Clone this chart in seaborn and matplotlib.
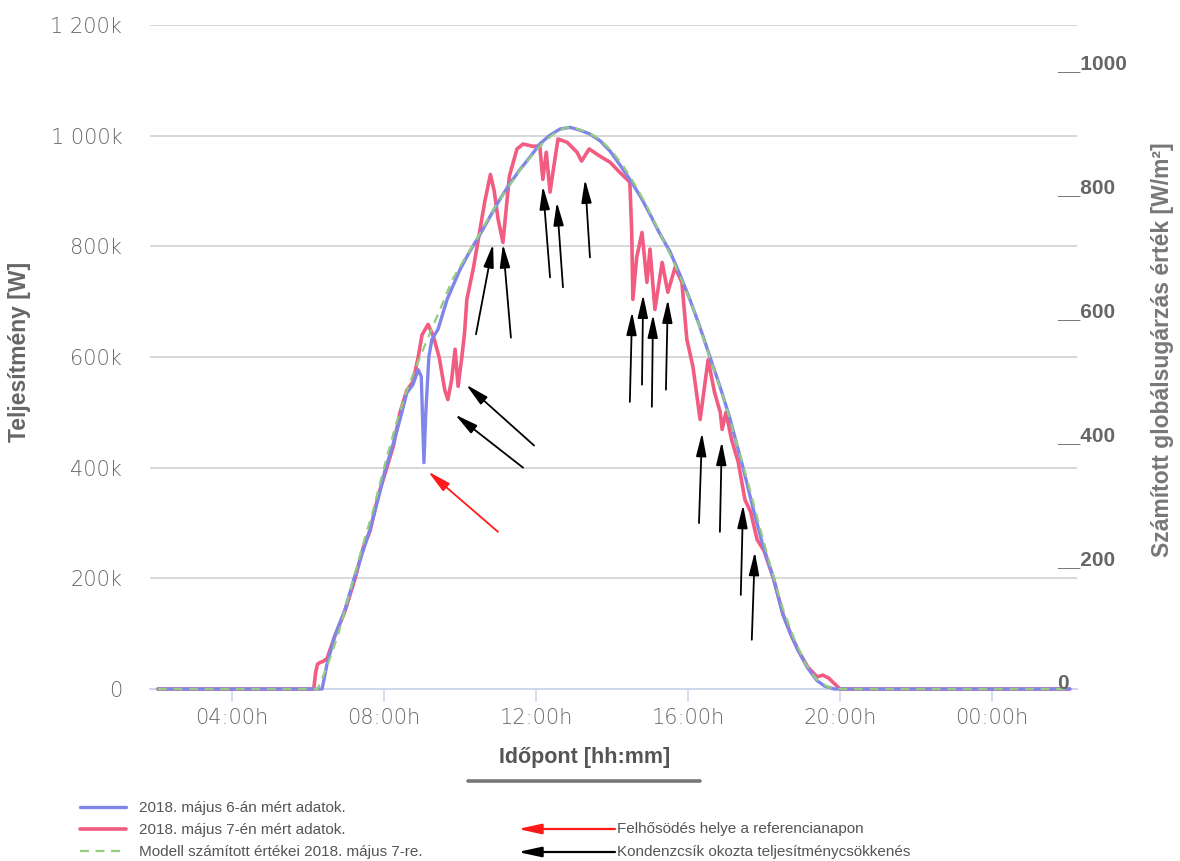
import matplotlib
matplotlib.use("Agg")
import matplotlib.pyplot as plt
from matplotlib.lines import Line2D
from matplotlib.patches import FancyArrowPatch
import seaborn as sns
import pandas as pd

# ---------------- data ----------------
# May 6 measured (time in hours, power in kW)
may6_t = [2.05, 6.30, 6.37, 6.50, 6.70, 6.97, 7.24, 7.45, 7.63, 7.85, 8.03, 8.25, 8.42, 8.60,
          8.76, 8.90, 8.98, 9.05, 9.10, 9.18, 9.26, 9.42, 9.66, 10.00, 10.25, 10.53, 10.80,
          11.05, 11.30, 11.58, 11.85, 12.10, 12.35, 12.63, 12.90, 13.15, 13.42, 13.70, 13.95,
          14.20, 14.47, 14.75, 15.00, 15.25, 15.53, 15.80, 16.05, 16.30, 16.58, 16.85, 17.10,
          17.45, 17.70, 17.95, 18.25, 18.50, 18.70, 18.90, 19.15, 19.40, 19.60, 19.85, 26.05]
may6_p = [0, 0, 0, 45, 95, 143, 206, 250, 288, 345, 396, 445, 487, 535,
          550, 577, 565, 409, 500, 600, 632, 650, 704, 758, 790, 822, 855,
          885, 912, 939, 962, 985, 1000, 1012, 1015, 1010, 1003, 990, 972,
          948, 921, 890, 858, 824, 790, 747, 704, 657, 600, 545, 490,
          400, 330, 265, 200, 135, 100, 70, 38, 15, 5, 0, 0]

# May 7 measured
may7_t = [2.05, 6.15, 6.20, 6.25, 6.32, 6.40, 6.50, 6.70, 6.97, 7.24, 7.45, 7.63, 7.85, 8.03,
          8.25, 8.42, 8.60, 8.76, 8.90, 9.00, 9.16, 9.30, 9.45, 9.60, 9.68, 9.78, 9.87, 9.95,
          10.05, 10.12, 10.18, 10.35, 10.50, 10.65, 10.80, 10.90, 11.00, 11.13, 11.30, 11.50,
          11.66, 11.90, 12.10, 12.18, 12.27, 12.37, 12.47, 12.58, 12.82, 13.08, 13.20, 13.40,
          13.68, 13.95, 14.20, 14.47, 14.52, 14.55, 14.65, 14.79, 14.92, 15.00, 15.13, 15.32,
          15.47, 15.66, 15.84, 15.97, 16.13, 16.32, 16.53, 16.70, 16.85, 16.90, 17.00, 17.15,
          17.32, 17.50, 17.65, 17.82, 18.00, 18.25, 18.50, 18.70, 18.90, 19.15, 19.40, 19.55,
          19.70, 19.85, 20.00, 26.05]
may7_p = [0, 0, 30, 45, 48, 50, 55, 95, 140, 200, 255, 285, 350, 390,
          440, 500, 540, 555, 600, 640, 659, 637, 600, 540, 523, 559, 614, 547,
          601, 644, 704, 760, 820, 880, 930, 900, 850, 807, 927, 976,
          985, 981, 981, 921, 970, 898, 945, 994, 988, 970, 954, 976,
          963, 952, 934, 916, 825, 704, 780, 825, 735, 795, 686, 771,
          717, 762, 735, 632, 583, 487, 595, 536, 500, 469, 500, 450,
          411, 342, 320, 270, 250, 200, 135, 100, 70, 40, 22, 25,
          20, 10, 0, 0]

# Model values for May 7
model_t = [2.05, 6.25, 6.50, 6.80, 7.10, 7.40, 7.70, 8.00, 8.30, 8.60, 8.90, 9.20, 9.50, 9.80,
           10.10, 10.40, 10.70, 11.00, 11.30, 11.60, 11.90, 12.20, 12.50, 12.80, 13.10, 13.40,
           13.70, 14.00, 14.30, 14.60, 14.90, 15.20, 15.50, 15.80, 16.10, 16.40, 16.70, 17.00,
           17.30, 17.60, 17.90, 18.20, 18.50, 18.80, 19.10, 19.40, 19.70, 19.95, 26.05]
model_p = [0, 0, 40, 100, 175, 250, 320, 400, 475, 540, 592, 642, 690, 740,
           775, 808, 845, 880, 910, 940, 965, 988, 1005, 1015, 1012, 1005,
           992, 972, 945, 912, 875, 832, 790, 745, 695, 635, 575, 512,
           440, 368, 290, 215, 145, 90, 45, 16, 3, 0, 0]

x_ticks = [4, 8, 12, 16, 20, 24]
x_tick_labels = ["04:00h", "08:00h", "12:00h", "16:00h", "20:00h", "00:00h"]
left_ticks = [0, 200, 400, 600, 800, 1000, 1200]
right_ticks = [0, 200, 400, 600, 800, 1000]

series_labels = ["2018. május 6-án mért adatok.",
                 "2018. május 7-én mért adatok.",
                 "Modell számított értékei 2018. május 7-re."]

# annotation arrows: (tail_t, tail_p) -> (head_t, head_p)
cloud_arrow = [(11.0, 284, 9.16, 393)]
contrail_arrows = [
    (11.66, 400, 9.87, 496), (11.95, 440, 10.16, 550),
    (10.42, 641, 10.87, 804), (11.34, 635, 11.13, 804),
    (12.37, 744, 12.18, 909), (12.71, 726, 12.55, 880),
    (13.42, 780, 13.29, 921),
    (14.47, 519, 14.53, 682), (14.79, 550, 14.82, 713),
    (15.05, 510, 15.08, 677), (15.42, 541, 15.47, 704),
    (16.29, 300, 16.37, 463), (16.84, 284, 16.89, 447),
    (17.39, 170, 17.45, 333), (17.68, 89, 17.76, 248),
]
arrow_legend = ["Felhősödés helye a referencianapon",
                "Kondenzcsík okozta teljesítménycsökkenés"]

# ---------------- style ----------------
sns.set_theme(style="white")
plt.rcParams["font.family"] = ["DejaVu Sans"]

W, H = 1180, 861
fig = plt.figure(figsize=(W / 100, H / 100), dpi=100)
ax = fig.add_axes([150 / W, 1 - 689 / H, (1077 - 150) / W, (689 - 25) / H])

c_blue, c_red, c_green = "#8085e9", "#f15c80", "#95cc7f"

df6 = pd.DataFrame({"t": may6_t, "p": may6_p})
df7 = pd.DataFrame({"t": may7_t, "p": may7_p})
dfm = pd.DataFrame({"t": model_t, "p": model_p})

sns.lineplot(data=df7, x="t", y="p", ax=ax, color=c_red, lw=2.6, sort=False,
             estimator=None, label=series_labels[1], zorder=3)
sns.lineplot(data=df6, x="t", y="p", ax=ax, color=c_blue, lw=2.4, sort=False,
             estimator=None, label=series_labels[0], zorder=4)
sns.lineplot(data=dfm, x="t", y="p", ax=ax, color=c_green, lw=1.6, sort=False,
             estimator=None, label=series_labels[2], zorder=5)
ax.lines[2].set_dashes((4, 3))
for ln in ax.lines:
    ln.set_clip_on(False)

ax.set_xlim(1.84, 26.24)
ax.set_ylim(0, 1200)
ax.set_xlabel("")
ax.set_ylabel("")

for s in ["top", "left", "right"]:
    ax.spines[s].set_visible(False)
ax.spines["bottom"].set_color("#ccd6eb")
ax.spines["bottom"].set_linewidth(1.3)

ax.set_yticks(left_ticks)
ax.set_yticklabels(["0" if v == 0 else f"{v:,}".replace(",", " ") + "k" for v in left_ticks])
ax.yaxis.grid(True, color="#d8d8d8", lw=1.4)
ax.set_axisbelow(True)
ax.tick_params(axis="y", length=0, pad=20, labelsize=15, labelcolor="#666666")
ax.set_xticks(x_ticks)
ax.set_xticklabels(x_tick_labels)
ax.tick_params(axis="x", length=9.5, width=1.2, color="#ccd6eb", pad=4,
               labelsize=15, labelcolor="#666666", direction="out", bottom=True)
for lab in ax.get_xticklabels() + ax.get_yticklabels():
    lab.set_fontweight("light")

# right axis
ax2 = ax.twinx()
ax2.set_ylim(0, 1071)
ax2.set_yticks(right_ticks)
ax2.set_yticklabels(["0" if v == 0 else "__" + str(v) for v in right_ticks])
ax2.tick_params(axis="y", length=0, pad=-14.4, labelsize=15, labelcolor="#666666")
for lab in ax2.get_yticklabels():
    lab.set_fontweight("bold")
    lab.set_family(["Liberation Sans", "DejaVu Sans"])
    lab.set_va("baseline")
    lab.set_ha("left")
for s in ax2.spines.values():
    s.set_visible(False)
ax2.grid(False)

# arrows
arrow_style = "-|>,head_length=1.0,head_width=0.22"
for (tt, tp, ht, hp) in cloud_arrow:
    ax.annotate("", xy=(ht, hp), xytext=(tt, tp),
                arrowprops=dict(arrowstyle=arrow_style, color="#ff1a1a", lw=1.3,
                                shrinkA=0, shrinkB=0, mutation_scale=14), zorder=6)
for (tt, tp, ht, hp) in contrail_arrows:
    ax.annotate("", xy=(ht, hp), xytext=(tt, tp),
                arrowprops=dict(arrowstyle=arrow_style, color="black", lw=1.3,
                                shrinkA=0, shrinkB=0, mutation_scale=14), zorder=6)

# axis titles
lab_font = ["Liberation Sans", "DejaVu Sans"]
fig.text(20 / W, 1 - 352 / H, "Teljesítmény [W]", rotation=90, ha="center", va="center",
         fontsize=16.5, fontweight="bold", color="#666666", family=lab_font)
fig.text(1163 / W, 1 - 350 / H, "Számított globálsugárzás érték [W/m²]", rotation=90,
         ha="center", va="center", fontsize=16.5, fontweight="bold", color="#777777",
         family=lab_font)
fig.text(585 / W, 1 - 757 / H, "Időpont [hh:mm]", ha="center", va="center",
         fontsize=15.5, fontweight="bold", color="#555555", family=lab_font)
fig.add_artist(Line2D([468 / W, 700 / W], [1 - 781 / H, 1 - 781 / H], color="#777777", lw=2.6))

# legend (series)
handles, labels = ax.get_legend_handles_labels()
order = [labels.index(l) for l in series_labels]
leg = ax.legend([handles[i] for i in order], [labels[i] for i in order],
                loc="upper left", bbox_to_anchor=(80 / W, 1 - 801 / H),
                bbox_transform=fig.transFigure, frameon=False, borderpad=0,
                borderaxespad=0, handlelength=3.0, handletextpad=0.85,
                labelspacing=0.52, prop={"family": "Liberation Sans", "size": 11})
for t in leg.get_texts():
    t.set_color("#555555")
leg.get_lines()[2].set_dashes((4, 3))

# legend (arrows)
arrow_cols = ["#ff1a1a", "black"]
for i, (txt, col) in enumerate(zip(arrow_legend, arrow_cols)):
    y = 1 - (829 + 23 * i) / H
    fig.add_artist(FancyArrowPatch(
        (615 / W, y), (518 / W, y), transform=fig.transFigure,
        arrowstyle=arrow_style, mutation_scale=14,
        color=col, lw=1.6, shrinkA=0, shrinkB=0))
    fig.text(617 / W, y, txt, ha="left", va="center", fontsize=11,
             family="Liberation Sans", color="#555555")

fig.savefig("out.png", dpi=100)
